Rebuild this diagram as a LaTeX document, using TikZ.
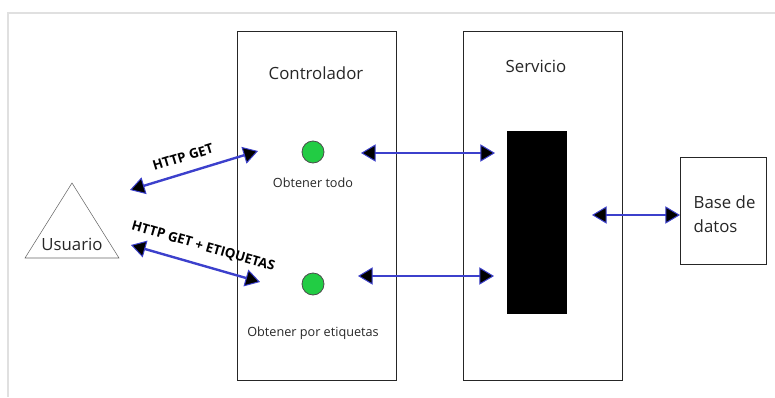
\documentclass[tikz,border=0pt]{standalone}
\usepackage{fontspec}
\setmainfont{Open Sans}
\usetikzlibrary{arrows.meta,positioning}

\definecolor{linkblue}{RGB}{60,64,204}
\definecolor{dotgreen}{RGB}{34,204,68}
\definecolor{framegray}{RGB}{224,224,224}

\begin{document}
\begin{tikzpicture}[
    x=0.75pt, y=-0.75pt,
    panel/.style={rectangle, draw=black!85, line width=0.75pt, minimum width=119.25pt, minimum height=261.75pt, inner sep=0pt, anchor=north west},
    dot/.style={circle, draw=black!70, fill=dotgreen, minimum size=16.5pt, inner sep=0pt, line width=0.6pt},
    caption/.style={font=\fontsize{9.5}{11}\selectfont, text=black!85},
    title/.style={font=\fontsize{12.6}{18}\selectfont, text=black!85},
    arrow/.style={{Triangle[length=11pt, width=13pt, fill=black, line width=0.75pt]}-{Triangle[length=11pt, width=13pt, fill=black, line width=0.75pt]}, draw=linkblue, line width=1.8pt},
    req/.style={font=\bfseries\fontsize{10}{12}\selectfont, sloped}
]
    \useasboundingbox (0,0) rectangle (775,397);
    \draw[framegray, line width=1.5pt] (8,397) -- (8,13) -- (775,13);

    % boxes
    \node[panel] (ctrl) at (237,31) {};
    \node[panel] (svc) at (463,31) {};
    \node[title] (ctrltitle) at (316,73) {Controlador};
    \node[title] (svctitle) at (536,66) {Servicio};
    \node[rectangle, fill=black, minimum width=45pt, minimum height=137.25pt, inner sep=0pt, anchor=north west] (impl) at (507,131) {};
    \node[rectangle, draw=black!85, line width=0.75pt, minimum width=64.5pt, minimum height=80.25pt, inner sep=0pt, anchor=north west] (db) at (680,157) {};
    \node[title, align=left, anchor=west] (dbtext) at (689,214) {Base de\\datos};

    % user
    \draw[black!60] (72,183) -- (119,258) -- (25,258) -- cycle;
    \node[title] (user) at (72,244) {Usuario};

    % endpoints
    \node[dot] (getall) at (313,152) {};
    \node[dot] (gettags) at (313,284) {};
    \node[caption, below=7.5pt of getall] (getalltext) {Obtener todo};
    \node[caption, below=20pt of gettags] (gettagstext) {Obtener por etiquetas};

    \coordinate (ua) at (130,190);
    \coordinate (ga) at (258,151);
    \coordinate (ub) at (131,245);
    \coordinate (gb) at (260,282);
    \coordinate (ca) at (361,153);
    \coordinate (sa) at (495,153);
    \coordinate (cb) at (358,276);
    \coordinate (sb) at (494,276);
    \coordinate (svcout) at (592,215);

    \draw[arrow] (ua) -- node[req, above=4pt, pos=0.45] {HTTP GET} (ga);
    \draw[arrow] (ub) -- node[req, above=5pt, pos=0.52] {HTTP GET + ETIQUETAS} (gb);
    \draw[arrow] (ca) -- (sa);
    \draw[arrow] (cb) -- (sb);
    \draw[arrow] (svcout) -- (db.west |- svcout);
\end{tikzpicture}
\end{document}
